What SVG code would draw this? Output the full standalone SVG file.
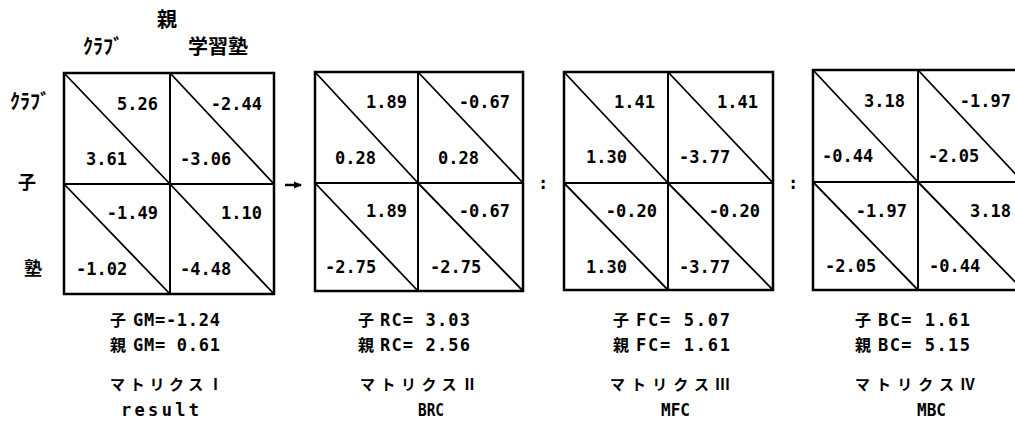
<svg xmlns="http://www.w3.org/2000/svg" width="1015" height="444" viewBox="0 0 1015 444">
<style>
.frame{fill:none;stroke:#000;stroke-width:2.5}
.grid{fill:none;stroke:#000;stroke-width:2}
.diag{fill:none;stroke:#000;stroke-width:1.8}
.num{font-family:"DejaVu Sans Mono","Liberation Mono",monospace;font-weight:bold;font-size:17px;fill:#000}
.r{text-anchor:end}
.cjk{font-family:"Noto Sans CJK JP","Noto Sans CJK SC",sans-serif;font-weight:bold;fill:#000}
.lat{font-family:"DejaVu Sans Mono","Liberation Mono",monospace;font-weight:bold;font-size:17px;fill:#000}
</style>
<defs>
<marker id="ah" markerWidth="8" markerHeight="8" refX="7" refY="4" orient="auto" markerUnits="userSpaceOnUse">
<path d="M0,0.5 L8,4 L0,7.5 Z" fill="#000"/>
</marker>
</defs>
<rect width="1015" height="444" fill="#fff"/>

<g id="header">
<text class="cjk" x="167" y="27" font-size="20" text-anchor="middle">親</text>
<text class="cjk" x="83" y="54" font-size="20">ｸﾗﾌﾞ</text>
<text class="cjk" x="188" y="54" font-size="20">学習塾</text>
<text class="cjk" x="10" y="109" font-size="20">ｸﾗﾌﾞ</text>
<text class="cjk" x="27" y="189" font-size="18" text-anchor="middle">子</text>
<text class="cjk" x="33" y="275" font-size="18" text-anchor="middle">塾</text>
</g>

<g id="matrix1">
<rect class="frame" x="64" y="73" width="210" height="221"/>
<path class="grid" d="M170,73 V294 M64,184 H274"/>
<path class="diag" d="M64,73 L170,184 M170,73 L274,184 M64,184 L170,294 M170,184 L274,294"/>
<text class="num r" x="158" y="110">5.26</text>
<text class="num r" x="262" y="110">-2.44</text>
<text class="num" x="86" y="165">3.61</text>
<text class="num" x="180" y="165">-3.06</text>
<text class="num r" x="158" y="219">-1.49</text>
<text class="num r" x="262" y="219">1.10</text>
<text class="num" x="76" y="275">-1.02</text>
<text class="num" x="180" y="275">-4.48</text>
<text class="cjk" x="110" y="326" font-size="16">子</text>
<text class="lat" x="133" y="326" textLength="87" lengthAdjust="spacing">GM=-1.24</text>
<text class="cjk" x="110" y="351" font-size="16">親</text>
<text class="lat" x="133" y="351" textLength="87" lengthAdjust="spacing">GM= 0.61</text>
<text class="cjk" x="110" y="390" font-size="15" textLength="113" lengthAdjust="spacing">マトリクスⅠ</text>
<text class="lat" x="121" y="416" textLength="78" lengthAdjust="spacing">result</text>
</g>

<g id="matrix2">
<rect class="frame" x="315" y="72" width="208" height="219"/>
<path class="grid" d="M418,72 V291 M315,183 H523"/>
<path class="diag" d="M315,72 L418,183 M418,72 L523,183 M315,183 L418,291 M418,183 L523,291"/>
<text class="num r" x="407" y="108">1.89</text>
<text class="num r" x="510" y="108">-0.67</text>
<text class="num" x="335" y="164">0.28</text>
<text class="num" x="438" y="164">0.28</text>
<text class="num r" x="407" y="217">1.89</text>
<text class="num r" x="510" y="217">-0.67</text>
<text class="num" x="325" y="273">-2.75</text>
<text class="num" x="430" y="273">-2.75</text>
<text class="cjk" x="358" y="326" font-size="16">子</text>
<text class="lat" x="380" y="326" textLength="90" lengthAdjust="spacing">RC= 3.03</text>
<text class="cjk" x="358" y="351" font-size="16">親</text>
<text class="lat" x="380" y="351" textLength="90" lengthAdjust="spacing">RC= 2.56</text>
<text class="cjk" x="360" y="390" font-size="15" textLength="117" lengthAdjust="spacing">マトリクスⅡ</text>
<text class="lat" x="418" y="416" textLength="26" lengthAdjust="spacingAndGlyphs">BRC</text>
</g>

<g id="matrix3">
<rect class="frame" x="564" y="72" width="209" height="218"/>
<path class="grid" d="M668,72 V290 M564,183 H773"/>
<path class="diag" d="M564,72 L668,183 M668,72 L773,183 M564,183 L668,290 M668,183 L773,290"/>
<text class="num r" x="655" y="108">1.41</text>
<text class="num r" x="758" y="108">1.41</text>
<text class="num" x="586" y="163">1.30</text>
<text class="num" x="679" y="163">-3.77</text>
<text class="num r" x="657" y="217">-0.20</text>
<text class="num r" x="760" y="217">-0.20</text>
<text class="num" x="586" y="273">1.30</text>
<text class="num" x="679" y="273">-3.77</text>
<text class="cjk" x="613" y="326" font-size="16">子</text>
<text class="lat" x="636" y="326" textLength="94" lengthAdjust="spacing">FC= 5.07</text>
<text class="cjk" x="613" y="351" font-size="16">親</text>
<text class="lat" x="636" y="351" textLength="94" lengthAdjust="spacing">FC= 1.61</text>
<text class="cjk" x="610" y="390" font-size="15" textLength="120" lengthAdjust="spacing">マトリクスⅢ</text>
<text class="lat" x="661" y="416" textLength="29" lengthAdjust="spacingAndGlyphs">MFC</text>
</g>

<g id="matrix4">
<rect class="frame" x="813" y="70" width="210" height="220"/>
<path class="grid" d="M918,70 V290 M813,182 H1023"/>
<path class="diag" d="M813,70 L918,182 M918,70 L1023,182 M813,182 L918,290 M918,182 L1023,290"/>
<text class="num r" x="905" y="107">3.18</text>
<text class="num r" x="1011" y="107">-1.97</text>
<text class="num" x="822" y="162">-0.44</text>
<text class="num" x="928" y="162">-2.05</text>
<text class="num r" x="907" y="217">-1.97</text>
<text class="num r" x="1011" y="217">3.18</text>
<text class="num" x="825" y="272">-2.05</text>
<text class="num" x="929" y="272">-0.44</text>
<text class="cjk" x="855" y="326" font-size="16">子</text>
<text class="lat" x="878" y="326" textLength="92" lengthAdjust="spacing">BC= 1.61</text>
<text class="cjk" x="855" y="351" font-size="16">親</text>
<text class="lat" x="878" y="351" textLength="92" lengthAdjust="spacing">BC= 5.15</text>
<text class="cjk" x="855" y="390" font-size="15" textLength="120" lengthAdjust="spacing">マトリクスⅣ</text>
<text class="lat" x="917" y="416" textLength="29" lengthAdjust="spacingAndGlyphs">MBC</text>
</g>

<g id="connectors">
<path d="M285,185 H301" stroke="#000" stroke-width="2.5" fill="none" marker-end="url(#ah)"/>
<text class="num" x="543" y="189" text-anchor="middle">:</text>
<text class="num" x="793" y="189" text-anchor="middle">:</text>
</g>
</svg>
